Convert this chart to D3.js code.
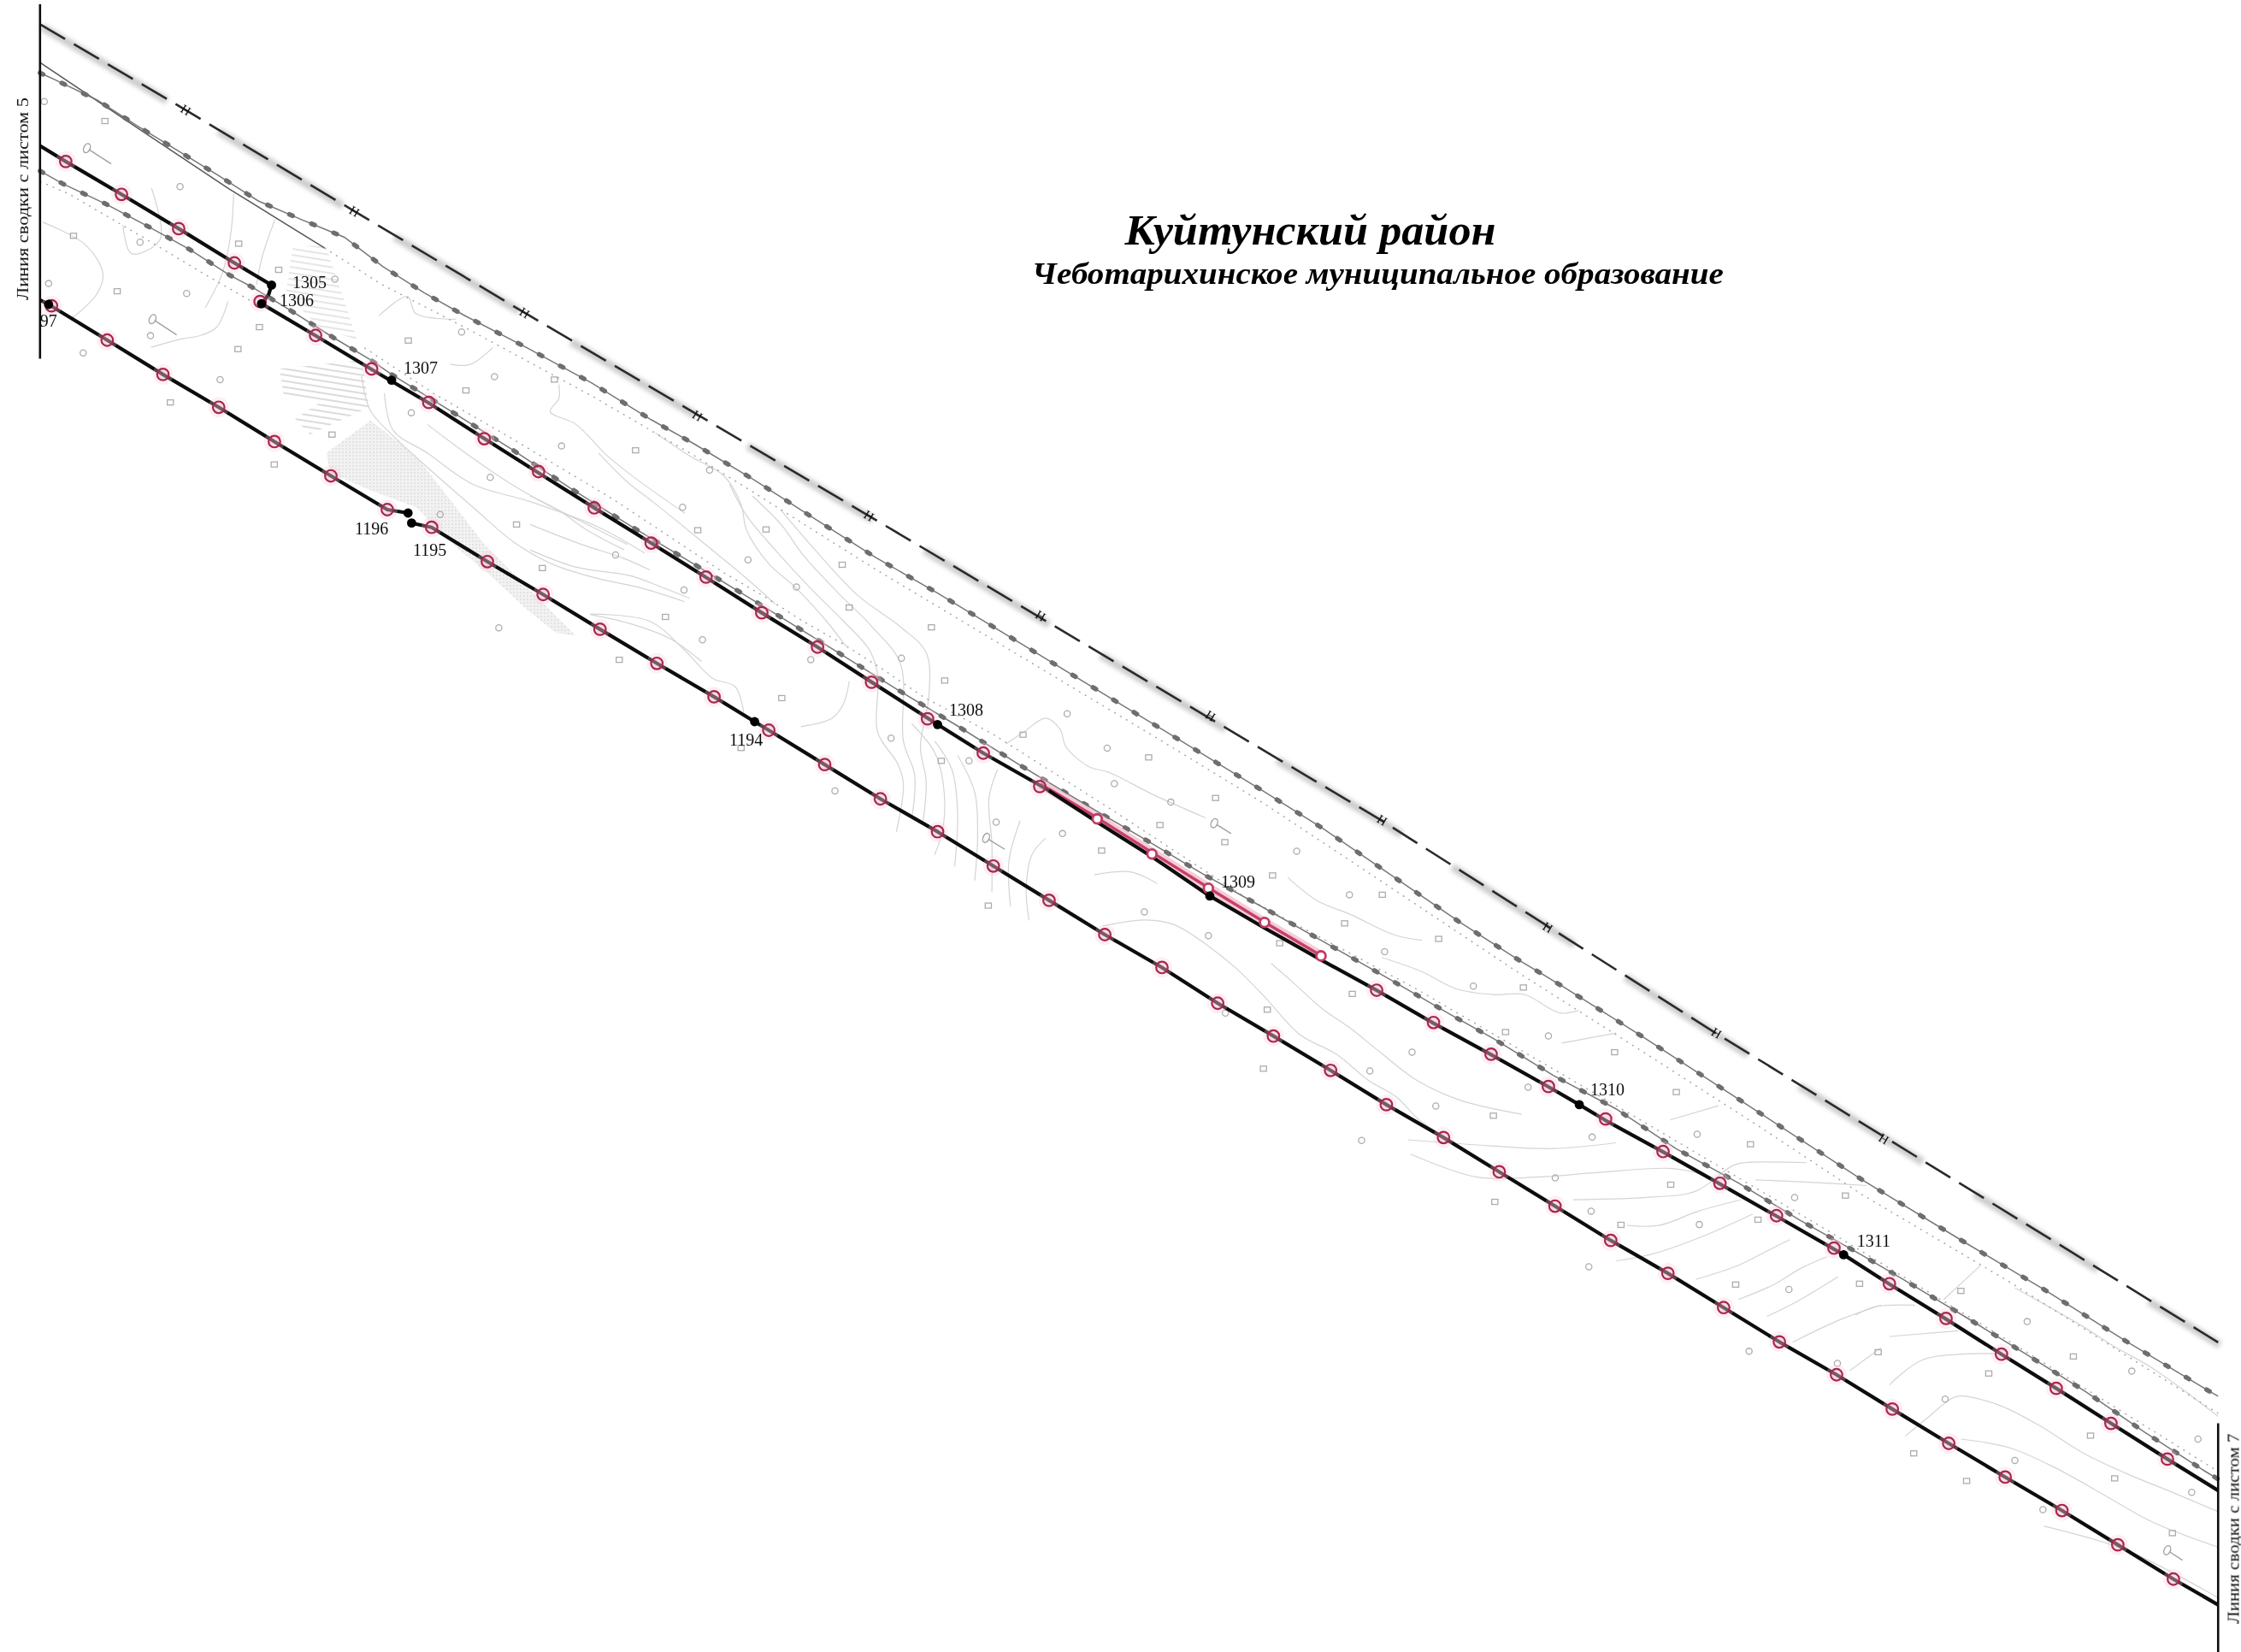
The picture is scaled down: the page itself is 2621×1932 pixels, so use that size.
<!DOCTYPE html>
<html lang="ru">
<head>
<meta charset="UTF-8">
<title>Куйтунский район</title>
<script src="https://d3js.org/d3.v7.min.js"></script>
<style>
  html, body { margin: 0; padding: 0; background: #fff; }
  svg { display: block; }
  text { font-family: "Liberation Serif", serif; fill: #111; }
  .contour { fill: none; stroke: #d4d4d4; stroke-width: 1.2; }
  .title { font-weight: bold; font-style: italic; fill: #000; }
</style>
</head>
<body>
<div id="map"></div>
<script>
// map units (sheet is 1568 x 1156 units)
const titleMain = "Куйтунский район";
const titleSub = "Чеботарихинское муниципальное образование";
const sheetLeftText = "Линия сводки с листом 5";
const sheetRightText = "Линия сводки с листом 7";

const sheetLeft = [[28, 3], [28, 251]];
const sheetRight = [[1552, 996], [1552, 1156]];

const upperBoundaryA = [[28, 102], [46, 113], [85, 136], [125, 160], [164, 184], [190, 199.5], [188, 206], [183, 212.5]];
const upperBoundaryB = [[183, 212.5], [221, 235], [260, 258.5], [300, 282], [339, 307], [377, 331], [416, 355.5], [455.5, 380],
  [494, 404], [533, 428.8], [572, 452.8], [610, 477.4], [656, 507], [688, 527], [731.9, 552], [768, 575.5], [805.6, 599.2], [846.5, 627],
  [885, 649.5], [924.4, 671.7], [963.2, 693], [1003, 716], [1043.3, 738], [1083.4, 760.5], [1105, 773], [1123.4, 784], [1163.6, 806],
  [1203.4, 828.5], [1243, 851], [1290, 878], [1322, 898.5], [1361.6, 923], [1400.4, 947.6], [1438.7, 971.5], [1477, 996], [1516.5, 1021], [1552, 1043]];
const lowerBoundaryA = [[28, 210], [34, 213], [75, 238], [114, 262], [153, 285], [192, 309], [231.5, 333], [271, 356.6], [285.5, 359]];
const lowerBoundaryB = [[288, 366], [302, 369], [341, 393], [380, 416], [419.8, 440.3], [459.6, 464.2], [499.6, 487.6], [528, 505],
  [537.9, 511], [577, 535], [616, 559], [656, 582], [695, 606], [734, 630], [773, 654], [813, 677], [852, 702], [891, 725], [931, 749],
  [970, 773], [1010, 796], [1049, 820], [1088, 844], [1127, 868], [1167, 891], [1206, 915], [1245, 939], [1285, 962], [1324, 986],
  [1363.5, 1010], [1403, 1033.6], [1442.7, 1057], [1481.8, 1081], [1520.7, 1105], [1552, 1123]];
const redSection = [[728, 548.5], [768, 572.5], [806, 596.5], [846, 621.5], [885, 645.5], [924, 668.5]];

const markersUpper = [[46, 113], [85, 136], [125, 160], [164, 184], [182, 211], [220.8, 234.7], [260, 258.2], [300, 281.6], [338.8, 307],
  [376.8, 330], [415.8, 355.4], [455.6, 380], [494, 403.8], [533, 428.8], [572, 452.8], [609.8, 477.4], [649, 503], [688, 527], [727.5, 550.4],
  [963.2, 692.9], [1003, 715.5], [1043.3, 737.7], [1083.4, 760.3], [1123.4, 783], [1163.6, 805.8], [1203.4, 828], [1243, 850.7], [1283.2, 873.4],
  [1322, 898.3], [1361.6, 922.6], [1400.4, 947.6], [1438.7, 971.5], [1477, 996], [1516.5, 1021]];
const markersOpen = [[767.7, 573], [806, 597.6], [845.5, 621.6], [884.8, 645.5], [924.3, 668.9]];
const markersLower = [[36, 214], [75, 238], [114, 262], [153, 285], [192, 309], [231.5, 333], [271, 356.6], [302, 369], [341, 393], [380, 416],
  [419.8, 440.3], [459.6, 464.2], [499.6, 487.6], [537.9, 511], [577, 535], [616, 559], [656, 582], [695, 606], [734, 630], [773, 654],
  [813, 677], [852, 702], [891, 725], [931, 749], [970, 773], [1010, 796], [1049, 820], [1088, 844], [1127, 868], [1167, 891], [1206, 915],
  [1245, 939], [1285, 962], [1324, 986], [1363.5, 1010], [1403, 1033.6], [1442.7, 1057], [1481.8, 1081], [1520.7, 1105]];

const turnPoints = [[190, 199.5], [183, 212.5], [274, 266], [656, 507], [846.5, 627], [1105, 773], [1290, 878], [34, 213], [285.5, 359], [288, 366], [528, 505]];
const turnLabels = [["1305", 204.6, 201.6], ["1306", 195.6, 214.2], ["1307", 282.4, 261.4], ["1196", 248.3, 373.9], ["1195", 288.9, 388.9],
  ["1194", 510.3, 521.6], ["1308", 664, 500.7], ["1309", 854.3, 621], ["1310", 1112.7, 766.7], ["1311", 1299.3, 872.2], ["97", 28, 228.5]];

const topFence = [[28, 17], [129.6, 76.8], [249.3, 148.6], [368, 219.4], [608, 361], [967, 574.3], [1201.4, 723.5], [1552, 939.3]];
const fenceMarks = [[130, 77], [248, 148], [367, 219], [488, 291], [608, 361], [728, 431], [847, 501], [967, 574], [1083, 649], [1201, 723], [1318, 797]];

const roadUpper = [[28, 51], [38, 55.6], [68, 70], [96, 88], [152.5, 122.6], [180.7, 140.6], [211, 153.7], [241, 166], [268, 186.6], [297, 205],
  [325, 220.8], [370, 244], [414, 268], [455.8, 293.8], [485.8, 310.7], [528, 336], [570, 363], [612.6, 390], [656, 415], [682, 430.7], [811.8, 509.6],
  [883.6, 553.4], [925.4, 579.6], [967, 608], [1021.8, 645.6], [1063, 672], [1093, 690], [1148.6, 725], [1232.4, 779.5], [1303, 825.6], [1374.8, 869.4],
  [1431, 902.8], [1486.7, 938], [1544.6, 972.8], [1552, 977]];
const roadLower = [[28, 119.6], [43.9, 128.6], [73.8, 142.6], [103.7, 158.5], [132.6, 174.5], [160.5, 192.4], [175.5, 200.4], [203.4, 217.3], [231.3, 235],
  [260, 252.3], [274, 262], [316, 288], [359, 315], [399.7, 342], [442.7, 369], [485.7, 394.8], [542.6, 429.5], [585, 455.7], [628, 482.6], [670, 508],
  [713, 535], [755.8, 560.8], [798.6, 585.9], [841.7, 611.6], [885.4, 635.9], [929, 660.6], [972, 685], [1015, 710], [1045, 726.8], [1087, 752.6], [1130.6, 775.9],
  [1172.5, 803.6], [1216, 827.6], [1259, 853.6], [1303, 878.4], [1332, 895.5], [1374.8, 921.3], [1416.6, 947], [1459.6, 974], [1500.3, 1002], [1542, 1029], [1552, 1035]];
const edgeSolid = [[28, 43.7], [100, 92], [160, 132], [227, 173.5]];
const edgeDottedUpper = [[227, 173.5], [267, 199], [325, 229], [414, 277], [486, 319], [528, 345], [612, 398], [682, 440], [812, 518], [884, 562], [967, 617],
  [1063, 681], [1148, 735], [1232, 789], [1303, 836], [1406, 897], [1552, 989]];
const edgeDottedLower = [[255, 243.4], [303, 275], [355, 305], [430, 350], [506.7, 400.9], [534, 417], [562, 434.8], [590, 450.7], [618, 468.6], [646, 487.6],
  [695.8, 514.4], [780, 568], [871.6, 628], [991, 692], [1025, 712], [1150, 785], [1272, 857], [1400, 935], [1551, 1029]];
const edgeDottedLeft = [[28, 127], [48, 135.6], [100, 166], [145, 193], [178, 212]];

const hatchNorth = [[205, 172], [228, 172], [250, 238], [222, 228], [200, 205]];
const hatchSouth = [[195.6, 258], [253, 252], [258.3, 285], [217, 304], [206.4, 293], [225, 281], [198.5, 277]];
const greySlope = [[228.3, 317], [259.3, 294.2], [291.2, 319], [319, 355], [339, 381], [371, 413], [402.8, 444.7], [388.9, 442.7], [368.9, 426.8],
  [341, 400.8], [319, 383], [291, 355], [259, 343], [231, 331]];

const contours = [
  [[86, 157.5], [92, 177.5], [112, 167.5], [106, 131.6]],
  [[30, 155.5], [60, 171.5], [72, 191.4], [68, 205.4], [50, 223]],
  [[159.5, 211], [151.5, 229], [139.6, 235], [127.6, 237], [105.7, 243]],
  [[192.4, 153.5], [183.5, 179.5], [179.5, 199.4]],
  [[163.5, 135.6], [161.5, 163.5], [155.5, 191.4], [143.6, 215.4]],
  [[265.2, 221], [285, 207.4], [291, 219.4], [319, 223.4]],
  [[315, 255], [329, 255], [345, 243]],
  [[391, 269], [391, 279], [385, 288], [403, 297], [425, 319], [445, 335], [479, 359]],
  [[253, 263], [259, 287], [273, 303], [299, 327], [331, 355], [359, 379], [387, 395], [419, 405], [447, 411], [479, 421]],
  [[269, 275], [275, 301], [299, 317], [331, 339], [371, 351], [419, 369], [451, 387]],
  [[299, 297], [323, 315], [355, 337], [379, 351], [415, 369], [439, 381]],
  [[413, 430], [443, 437], [469, 447], [491, 463]],
  [[370.9, 347], [390.8, 357], [410.8, 371], [436.7, 384.8]],
  [[370.9, 367], [406.8, 380.9], [436.7, 390.8], [454.6, 398.8]],
  [[370.9, 384.8], [402.8, 396.8], [440.7, 402.8], [462.6, 410.8], [482.6, 418.7]],
  [[412.8, 429.7], [454.6, 434.7], [478.6, 454.6], [498.5, 474.6], [514.5, 480.6], [520.4, 498.5]],
  [[418.8, 317], [438.7, 337], [456.6, 351], [476.6, 367], [498.5, 385], [522.4, 404.8], [542.4, 422.7]],
  [[458.6, 303], [482.6, 319], [506.5, 333], [518.5, 353], [522.4, 371], [538.4, 395], [556.3, 410.8], [578.3, 434.7], [592.2, 452.6]],
  [[510.5, 339], [522.4, 360.9], [542.4, 384.8], [566.3, 410.8], [590.2, 434.7], [608.2, 454.6], [614.2, 472.6], [614.1, 512.5], [628.1, 534.4], [632.1, 548.4], [627.1, 582.3]],
  [[526.4, 347], [546.4, 366.9], [562.3, 388.8], [586.3, 414.7], [610.2, 438.7], [630.1, 464.6], [632.1, 518.5], [640, 542.4], [638, 572.3]],
  [[546.4, 357], [570.3, 384.8], [600.2, 416.7], [630.1, 438.7], [648, 456.6], [650, 486.5], [644, 522.5], [648, 546.4], [646, 574.3]],
  [[594.2, 476.6], [590.2, 492.5], [582.3, 502.5], [560.3, 508.5]],
  [[638, 506.5], [654, 526.5], [660, 548.4], [660, 578.3], [654, 598.2]],
  [[654, 518.5], [666, 538.4], [670, 568.3], [668, 606.2]],
  [[670, 528.5], [682, 554.4], [684, 586.3], [682, 616.2]],
  [[698, 538.4], [692, 558.4], [694, 590.3], [694, 624.2]],
  [[713.8, 574.3], [706, 602.2], [707, 634.2]],
  [[731.8, 586.3], [722, 598.2], [718, 622.2], [720, 644]],
  [[704, 520.5], [716, 512.5], [731.8, 502.5], [741.8, 510.5], [745.8, 522.5], [761.7, 536.4], [775.7, 540.4], [807.6, 556.4], [843.5, 572.3]],
  [[765.7, 612.2], [791.6, 610.2], [809.6, 618.2]],
  [[771.7, 648], [801.6, 643.7], [821.5, 647], [845.5, 662], [865.4, 678], [885.3, 698], [909.3, 723.8], [935.2, 737.8], [957.1, 755.7], [977.1, 767.7], [993, 783.6], [1015, 797.6]],
  [[889.3, 674], [905.3, 688], [925.2, 705.9], [945.2, 719.8], [965.1, 735.8], [991, 755.7], [1021, 769.7], [1064.8, 779.7]],
  [[901, 614], [921.2, 630], [945.2, 640], [975, 654], [995, 658]],
  [[967, 670], [995, 680], [1019, 692], [1045, 696], [1066.9, 696], [1084.8, 706], [1092.8, 709], [1104.7, 707]],
  [[985, 797.6], [1041, 801.7], [1086.8, 803.7], [1130.6, 799.7]],
  [[987, 807.6], [1033, 823.6], [1076.8, 823.6], [1116.7, 820.6], [1168.5, 817.6], [1190.5, 821.6]],
  [[1100.7, 839.5], [1156.6, 837.6], [1186.5, 833.6], [1212.4, 815.6], [1220.4, 813.6], [1264, 813.6]],
  [[1138.6, 857.5], [1160.6, 857.5], [1188.5, 847.5], [1218.4, 839.5]],
  [[1130.7, 882.4], [1156.6, 877.4], [1190.5, 865.5], [1226.4, 849.5]],
  [[1168.5, 783.7], [1202.4, 773.7]],
  [[1092.8, 729.9], [1130.7, 722.9]],
  [[1228.4, 825.6], [1272.2, 827.6], [1306, 829.6]],
  [[1186.5, 895.3], [1216.4, 885.4], [1236.3, 875.4], [1252.3, 867.4]],
  [[1216.4, 909.3], [1240.3, 899.3], [1260.3, 887.4], [1278.2, 879.4]],
  [[1236.3, 921.2], [1256.3, 911.3], [1286.2, 893.3]],
  [[1254.3, 939.2], [1288.2, 923.2], [1316.1, 913.3]],
  [[1294.2, 959.1], [1316.1, 943.2]],
  [[1298.2, 920.2], [1312.1, 914.3], [1340, 913.3]],
  [[1322.1, 935.2], [1370, 931.2]],
  [[1322.1, 969.1], [1346, 951.2], [1395.9, 947.2]],
  [[1333, 1005], [1350, 991], [1362, 981], [1370, 977], [1398, 983], [1426, 997], [1458, 1017], [1487.6, 1031], [1521.5, 1044.9], [1552, 1057.8]],
  [[1372, 1007], [1405.8, 1013], [1437.8, 1027], [1473.6, 1046.9], [1505.5, 1064.8], [1552, 1082.7]],
  [[1360, 909.3], [1386, 885.3]],
  [[1409.8, 901.3], [1455.7, 927.2], [1477.6, 941.2], [1505.5, 957.1], [1552, 991]],
  [[1430, 1068], [1486, 1084], [1552, 1118]]
];

const spotPoints = [[31, 71], [73.4, 84.7], [126, 130.6], [51.4, 165], [98, 169.5], [167, 170.5], [34, 198.4], [82, 203.8], [130.6, 205.4], [195, 188.8], [234.3, 195.4],
  [181.5, 228.9], [105.3, 234.9], [166.5, 244.3], [58.2, 246.9], [285.7, 238.3], [154, 265.6], [119.2, 281.6], [346, 263.6], [326, 273.2], [323, 232.3], [387.9, 265.6],
  [287.8, 288.8], [232.3, 304.1], [392.9, 312.1], [444.7, 315.1], [343, 334], [191.9, 325], [477.6, 355], [361.4, 367], [308, 360], [488.2, 371], [430.7, 388.3],
  [379.5, 397.5], [478.6, 412.8], [465.6, 431.7], [349, 439.3], [433.3, 461.7], [496.5, 329], [536, 370.5], [523.4, 391.8], [589.3, 395.2], [557.3, 410.8], [594.2, 425.1],
  [491.5, 447.7], [651.7, 439], [630.7, 460.6], [661, 476.2], [567.3, 461.6], [547, 488.5], [623.5, 516.5], [658.6, 532.4], [678, 532.4], [518.5, 523.4], [746.7, 499.5],
  [715.8, 514.1], [584.2, 553.4], [691.5, 633.7], [774.7, 523.5], [803.7, 530], [779.7, 548.4], [850.5, 558.4], [819.2, 561.3], [811.6, 577.3], [697, 575.3], [857, 589.3],
  [907.3, 595.6], [770.8, 595.2], [743.4, 583.3], [890.4, 612.6], [944.2, 626.1], [967.2, 626.1], [800.7, 638.1], [940.8, 646.1], [845.5, 654.7], [895.4, 660], [968.8, 666],
  [1006.6, 657], [1030.9, 690], [946.2, 695.5], [857.4, 708.9], [886.7, 706.5], [988, 736.2], [884, 747.8], [958.5, 749.4], [1053.4, 722.2], [1004.6, 774], [1044.9, 780.7],
  [952.7, 798], [1065.9, 691], [1083.4, 724.9], [1129.7, 736.3], [1069.2, 760.8], [1172.9, 764.2], [1187.5, 793.7], [1224.8, 800.7], [1114, 795.7], [1291.2, 836.6],
  [1255.7, 838], [1169, 829], [1088.2, 824.2], [1045.9, 841], [1113.3, 847.5], [1134.2, 857.1], [1189, 856.9], [1230, 853.5], [1111.7, 886.4], [1214.4, 898.9], [1251.7, 902.3],
  [1301.1, 898.3], [1223.8, 945.6], [1314.1, 946.2], [1285.6, 954.1], [1372, 903.3], [1418.4, 924.8], [1450.7, 949.2], [1491.6, 959.5], [1391.5, 961.1], [1361, 979],
  [1462.7, 1004.6], [1537.9, 1007], [1339, 1017], [1409.8, 1021.9], [1479.6, 1034.5], [1533.5, 1044.3], [1376, 1036.3], [1429.4, 1056.4], [1520, 1072.8]];
const treeMarks = [[[60.8, 103.7], [77.8, 114.7]], [[106.7, 223.3], [123.6, 234.3]], [[690, 586.3], [703, 594.3]], [[849.6, 576], [861.4, 583.3]], [[1516.4, 1084.8], [1527, 1091.8]]];

const width = 2621, height = 1932;
const x = d3.scaleLinear().domain([0, 1568]).range([0, width]);
const y = d3.scaleLinear().domain([0, 1156]).range([0, height]);
const line = d3.line().x(d => x(d[0])).y(d => y(d[1]));
const curve = d3.line().x(d => x(d[0])).y(d => y(d[1])).curve(d3.curveCatmullRom.alpha(0.5));

const svg = d3.select('#map').append('svg').attr('width', width).attr('height', height);
const defs = svg.append('defs');
defs.append('filter').attr('id', 'soft').attr('filterUnits', 'userSpaceOnUse')
  .attr('x', 0).attr('y', 0).attr('width', width).attr('height', height)
  .append('feGaussianBlur').attr('stdDeviation', 0.5);
defs.append('filter').attr('id', 'halo').attr('filterUnits', 'userSpaceOnUse')
  .attr('x', 0).attr('y', 0).attr('width', width).attr('height', height)
  .append('feGaussianBlur').attr('stdDeviation', 2.6);
const hatch = defs.append('pattern').attr('id', 'hatch').attr('patternUnits', 'userSpaceOnUse')
  .attr('width', 40).attr('height', 7).attr('patternTransform', 'rotate(9)');
hatch.append('line').attr('x1', 0).attr('x2', 40).attr('y1', 3).attr('y2', 3).attr('stroke', '#cfcfcf').attr('stroke-width', 1.6);
const dither = defs.append('pattern').attr('id', 'dither').attr('patternUnits', 'userSpaceOnUse').attr('width', 4).attr('height', 4);
dither.append('rect').attr('width', 4).attr('height', 4).attr('fill', '#f2f2f2');
dither.append('rect').attr('width', 2).attr('height', 2).attr('fill', '#e2e2e2');

// grey shoulder of the fence goes under everything
svg.append('path').attr('d', line(topFence)).attr('fill', 'none').attr('stroke', '#cccccc')
  .attr('stroke-width', 9).attr('stroke-dasharray', '170 70').attr('filter', 'url(#halo)')
  .attr('transform', 'translate(2,3)');

const g = svg.append('g').attr('filter', 'url(#soft)');

// terrain first, boundaries on top
g.append('path').attr('d', line(greySlope) + 'Z').attr('fill', 'url(#dither)');
g.append('path').attr('d', line(hatchNorth) + 'Z').attr('fill', 'url(#hatch)').attr('opacity', 0.7);
g.append('path').attr('d', line(hatchSouth) + 'Z').attr('fill', 'url(#hatch)');

g.append('g').selectAll('path').data(contours).enter().append('path')
  .attr('class', 'contour').attr('d', d => curve(d));

const spots = g.append('g').attr('fill', 'none').attr('stroke', '#adadad').attr('stroke-width', 1.3);
spots.selectAll('circle').data(spotPoints.filter((d, i) => i % 2 === 0)).enter().append('circle')
  .attr('cx', d => x(d[0])).attr('cy', d => y(d[1])).attr('r', 3.6);
spots.selectAll('rect').data(spotPoints.filter((d, i) => i % 2 === 1)).enter().append('rect')
  .attr('x', d => x(d[0]) - 3.6).attr('y', d => y(d[1]) - 3).attr('width', 7.2).attr('height', 6);

const trees = g.append('g').attr('fill', 'none').attr('stroke', '#a0a0a0').attr('stroke-width', 1.4);
trees.selectAll('path').data(treeMarks).enter().append('path').attr('d', d => line(d));
trees.selectAll('ellipse').data(treeMarks).enter().append('ellipse')
  .attr('cx', d => x(d[0][0])).attr('cy', d => y(d[0][1])).attr('rx', 3.6).attr('ry', 5.6)
  .attr('fill', '#fff').attr('transform', d => `rotate(25 ${x(d[0][0])} ${y(d[0][1])})`);

g.append('path').attr('d', line(topFence)).attr('fill', 'none').attr('stroke', '#2a2a2a')
  .attr('stroke-width', 2.6).attr('stroke-dasharray', '34 12');
g.append('g').selectAll('text').data(fenceMarks).enter().append('text')
  .attr('transform', d => `translate(${x(d[0])},${y(d[1])}) rotate(31)`)
  .attr('text-anchor', 'middle').attr('dy', 5).attr('font-size', 15).text('Н');

[edgeDottedUpper, edgeDottedLower, edgeDottedLeft].forEach(l => {
  g.append('path').attr('d', line(l)).attr('fill', 'none').attr('stroke', '#a2a2a2')
    .attr('stroke-width', 1.4).attr('stroke-dasharray', '2 6');
});
g.append('path').attr('d', line(edgeSolid)).attr('fill', 'none').attr('stroke', '#555').attr('stroke-width', 1.5);

[roadUpper, roadLower].forEach(l => {
  g.append('path').attr('d', line(l)).attr('fill', 'none').attr('stroke', '#777').attr('stroke-width', 1.5);
  g.append('path').attr('d', line(l)).attr('fill', 'none').attr('stroke', '#6e6e6e').attr('stroke-width', 5.5)
    .attr('stroke-linecap', 'round').attr('stroke-dasharray', '4 24');
});

// red section lies just above the boundary
g.append('path').attr('d', line(redSection)).attr('fill', 'none').attr('stroke', '#f5ccd8').attr('stroke-width', 11);
g.append('path').attr('d', line(redSection)).attr('fill', 'none').attr('stroke', '#c83f68').attr('stroke-width', 3.4);

[upperBoundaryA, upperBoundaryB, lowerBoundaryA, lowerBoundaryB].forEach(l => {
  g.append('path').attr('d', line(l)).attr('fill', 'none').attr('stroke', '#0a0a0a').attr('stroke-width', 4.2).attr('stroke-linejoin', 'round');
});
[sheetLeft, sheetRight].forEach(l => {
  g.append('path').attr('d', line(l)).attr('fill', 'none').attr('stroke', '#111').attr('stroke-width', 2.6);
});

const times = d3.symbol().type(d3.symbolTimes).size(150);
const crossed = g.append('g').selectAll('g').data(markersUpper.concat(markersLower)).enter().append('g')
  .attr('transform', d => `translate(${x(d[0])},${y(d[1])})`);
crossed.append('circle').attr('r', 12).attr('fill', '#f7c9d6').attr('opacity', 0.3);
crossed.append('circle').attr('r', 6.8).attr('fill', '#e9a3b8').attr('fill-opacity', 0.25).attr('stroke', '#a8274f').attr('stroke-width', 2.2);
crossed.append('path').attr('d', times).attr('fill', '#6e1c38');

g.append('g').selectAll('circle').data(markersOpen).enter().append('circle')
  .attr('cx', d => x(d[0])).attr('cy', d => y(d[1])).attr('r', 5.4)
  .attr('fill', '#fff').attr('stroke', '#c03a63').attr('stroke-width', 2.8);

g.append('g').selectAll('circle').data(turnPoints).enter().append('circle')
  .attr('cx', d => x(d[0])).attr('cy', d => y(d[1])).attr('r', 5.4).attr('fill', '#000');

g.append('g').selectAll('text').data(turnLabels).enter().append('text')
  .attr('x', d => x(d[1])).attr('y', d => y(d[2])).attr('font-size', 20).text(d => d[0]);

svg.append('text').attr('class', 'title').attr('x', x(787)).attr('y', y(171)).attr('font-size', 50)
  .attr('textLength', 434).attr('lengthAdjust', 'spacingAndGlyphs').text(titleMain);
svg.append('text').attr('class', 'title').attr('x', x(722)).attr('y', y(198.5)).attr('font-size', 35)
  .attr('textLength', 809).attr('lengthAdjust', 'spacingAndGlyphs').text(titleSub);

svg.append('text').attr('transform', `translate(${x(19.7)},${y(210)}) rotate(-90)`)
  .attr('font-size', 19).attr('textLength', 237).attr('lengthAdjust', 'spacingAndGlyphs').text(sheetLeftText);
// pulled in a little so the whole label stays on the sheet
svg.append('text').attr('transform', `translate(${x(1566.5)},${y(1136)}) rotate(-90)`)
  .attr('font-size', 19).attr('textLength', 222).attr('lengthAdjust', 'spacingAndGlyphs').text(sheetRightText);
</script>
</body>
</html>
